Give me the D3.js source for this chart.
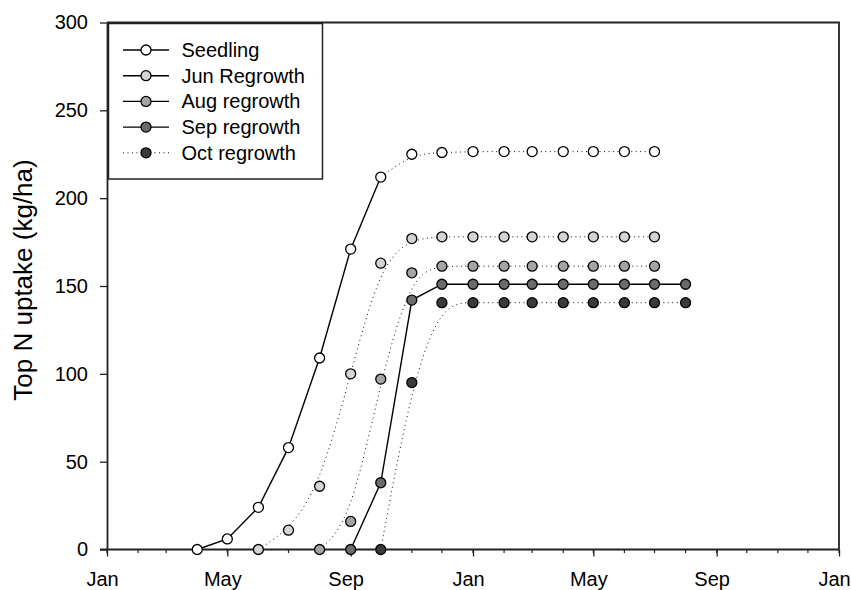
<!DOCTYPE html>
<html>
<head>
<meta charset="utf-8">
<script src="https://cdn.jsdelivr.net/npm/d3@7"></script>
<style>
  body { margin: 0; background: #fff; }
  svg text { font-family: 'Liberation Sans', Arial, sans-serif; fill: #000; }
</style>
</head>
<body>
<div id="chart"></div>
<script>
// series names and first sampling month of each (monthly samples after that)
const seriesNames = ['Seedling', 'Jun Regrowth', 'Aug regrowth', 'Sep regrowth', 'Oct regrowth'];
const startMonths = ['2001-04-01', '2001-06-01', '2001-08-01', '2001-09-01', '2001-10-01'];

// top N uptake (kg/ha), one value per month
const seedling = [0, 6, 24, 58, 109, 171, 212, 225, 226, 226.5, 226.5, 226.5, 226.5, 226.5, 226.5, 226.5];
const junRegrowth = [0, 11, 36, 100, 163, 177, 178, 178, 178, 178, 178, 178, 178, 178];
const augRegrowth = [0, 16, 97, 157.5, 161.3, 161.3, 161.3, 161.3, 161.3, 161.3, 161.3, 161.3];
const sepRegrowth = [0, 38, 142, 151, 151, 151, 151, 151, 151, 151, 151, 151];
const octRegrowth = [0, 95, 140.5, 140.5, 140.5, 140.5, 140.5, 140.5, 140.5, 140.5, 140.5];

const yTicks = [0, 50, 100, 150, 200, 250, 300];

const allValues = [seedling, junRegrowth, augRegrowth, sepRegrowth, octRegrowth];
const fills = ['#ffffff', '#d4d4d4', '#a4a4a4', '#6b6b6b', '#3a3a3a'];
// how many leading points are joined by a solid line (rest is dotted fit)
const solidCount = [7, 0, 0, 12, 0];

const parse = d3.timeParse('%Y-%m-%d');
const series = seriesNames.map((name, s) => ({
  name,
  fill: fills[s],
  solid: solidCount[s],
  points: allValues[s].map((v, i) => ({
    date: d3.timeMonth.offset(parse(startMonths[s]), i),
    value: v,
  })),
}));

const width = 851;
const height = 590;
const plot = { left: 107, right: 839, top: 22.5, bottom: 549.5 };

const xScale = d3.scaleTime()
  .domain([parse('2001-01-01'), parse('2003-01-01')])
  .range([plot.left, plot.right]);

const yScale = d3.scaleLinear()
  .domain([0, 300])
  .range([plot.bottom, plot.top]);

const svg = d3.select('#chart').append('svg')
  .attr('width', width)
  .attr('height', height);

// minor monthly ticks
svg.append('g')
  .selectAll('line')
  .data(d3.timeMonth.range(parse('2001-01-01'), parse('2003-01-02')))
  .enter()
  .append('line')
  .attr('x1', d => xScale(d))
  .attr('x2', d => xScale(d))
  .attr('y1', plot.bottom)
  .attr('y2', plot.bottom + 3.5)
  .attr('stroke', '#222')
  .attr('stroke-width', 1.2);

const xAxis = svg.append('g')
  .attr('transform', `translate(0, ${plot.bottom})`)
  .call(d3.axisBottom(xScale)
    .tickValues(d3.timeMonth.every(4).range(parse('2001-01-01'), parse('2003-01-02')))
    .tickFormat(d3.timeFormat('%b'))
    .tickSize(7)
    .tickSizeOuter(0)
    .tickPadding(15));

const yAxis = svg.append('g')
  .attr('transform', `translate(${plot.left}, 0)`)
  .call(d3.axisLeft(yScale)
    .tickValues(yTicks)
    .tickSize(7)
    .tickSizeOuter(0)
    .tickPadding(12));

[xAxis, yAxis].forEach(function (ax) {
  ax.select('.domain').attr('stroke', '#222').attr('stroke-width', 1.8);
  ax.selectAll('.tick line').attr('stroke', '#222').attr('stroke-width', 1.3);
  ax.selectAll('.tick text').style('font-size', '20px').attr('fill', '#000');
});
xAxis.selectAll('.tick text').attr('dx', -5);
xAxis.select('.domain').attr('d', `M${plot.left - 7},0H${plot.right}`);

// frame top and right
svg.append('path')
  .attr('d', `M${plot.left},${plot.top}H${plot.right}V${plot.bottom}`)
  .attr('fill', 'none')
  .attr('stroke', '#222')
  .attr('stroke-width', 1.8);

svg.append('text')
  .attr('transform', `translate(32, 280) rotate(-90)`)
  .attr('text-anchor', 'middle')
  .style('font-size', '26px')
  .text('Top N uptake (kg/ha)');

const dottedLine = d3.line()
  .x(d => xScale(d.date))
  .y(d => yScale(d.value))
  .curve(d3.curveBasis);

const solidLine = d3.line()
  .x(d => xScale(d.date))
  .y(d => yScale(d.value));

series.forEach(function (s) {
  const dotted = s.solid > 0 ? s.points.slice(s.solid - 1) : s.points;
  if (dotted.length > 1 && s.solid < s.points.length) {
    svg.append('path')
      .datum(dotted)
      .attr('d', dottedLine)
      .attr('fill', 'none')
      .attr('stroke', '#111')
      .attr('stroke-width', 1)
      .attr('stroke-dasharray', '1,3.5');
  }
  if (s.solid > 0) {
    svg.append('path')
      .datum(s.points.slice(0, s.solid))
      .attr('d', solidLine)
      .attr('fill', 'none')
      .attr('stroke', '#000')
      .attr('stroke-width', 1.4);
  }
});

series.forEach(function (s) {
  svg.append('g')
    .selectAll('circle')
    .data(s.points)
    .enter()
    .append('circle')
    .attr('cx', d => xScale(d.date))
    .attr('cy', d => yScale(d.value))
    .attr('r', 5)
    .attr('fill', s.fill)
    .attr('stroke', '#000')
    .attr('stroke-width', 1.3);
});

// legend
const legend = svg.append('g');
legend.append('rect')
  .attr('x', 108.5)
  .attr('y', 23.5)
  .attr('width', 214)
  .attr('height', 155.5)
  .attr('fill', '#fff')
  .attr('stroke', '#222')
  .attr('stroke-width', 1.5);

series.forEach(function (s, i) {
  const y = 50 + i * 25.7;
  const dotted = i === series.length - 1;
  legend.append('line')
    .attr('x1', 123)
    .attr('x2', 169)
    .attr('y1', y)
    .attr('y2', y)
    .attr('stroke', dotted ? '#111' : '#000')
    .attr('stroke-width', dotted ? 1 : 1.4)
    .attr('stroke-dasharray', dotted ? '1,3.5' : null);
  legend.append('circle')
    .attr('cx', 146)
    .attr('cy', y)
    .attr('r', 5)
    .attr('fill', s.fill)
    .attr('stroke', '#000')
    .attr('stroke-width', 1.3);
  legend.append('text')
    .attr('x', 181.5)
    .attr('y', y)
    .attr('dy', '0.35em')
    .style('font-size', '20px')
    .text(s.name);
});
</script>
</body>
</html>
